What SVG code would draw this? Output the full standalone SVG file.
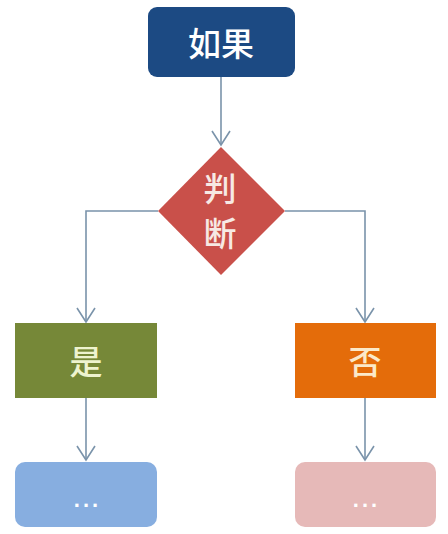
<svg xmlns="http://www.w3.org/2000/svg" width="448" height="534" viewBox="0 0 448 534">
<defs>
<marker id="arrv" markerWidth="22" markerHeight="22" viewBox="-11 -20 22 22" refX="0" refY="0" orient="0" markerUnits="userSpaceOnUse">
<path d="M-9,-14 L0,0 L9,-14" fill="none" stroke="#7a93aa" stroke-width="1.6"/>
</marker>
<style>
.cn{fill:none;stroke:#7a93aa;stroke-width:1.6}
.t{font-family:"Noto Sans CJK SC","Noto Sans",sans-serif;font-size:33px;font-weight:500;text-anchor:middle;dominant-baseline:central}
.d{font-family:"Liberation Sans",sans-serif;font-size:22px;font-weight:bold;letter-spacing:3px;text-anchor:middle;fill:#ffffff}
</style>
</defs>
<rect width="448" height="534" fill="#ffffff"/>
<g id="connectors">
<path class="cn" d="M221,77 V145" marker-end="url(#arrv)"/>
<path class="cn" d="M158,211 H86 V322" marker-end="url(#arrv)"/>
<path class="cn" d="M285,211 H365 V322" marker-end="url(#arrv)"/>
<path class="cn" d="M86,398 V460" marker-end="url(#arrv)"/>
<path class="cn" d="M365,398 V460" marker-end="url(#arrv)"/>
</g>
<g id="node-ruguo">
<rect x="148" y="7" width="147" height="70" rx="9" fill="#1c4a83"/>
<text class="t" x="221" y="42" fill="#ffffff">如果</text>
</g>
<g id="node-panduan">
<polygon points="221,147 285,211 221,275 158,211" fill="#c9504a"/>
<text class="t" x="220" y="187" fill="#f7e9e4">判</text>
<text class="t" x="220" y="232" fill="#f7e9e4">断</text>
</g>
<g id="node-shi">
<rect x="15" y="323" width="142" height="75" fill="#768838"/>
<text class="t" x="86" y="360" fill="#eef3cf" font-size="35">是</text>
</g>
<g id="node-fou">
<rect x="295" y="323" width="141" height="75" fill="#e46c0a"/>
<text class="t" x="365" y="360" fill="#fbe9c9" font-size="35">否</text>
</g>
<g id="node-yes-next">
<rect x="15" y="462" width="142" height="65" rx="10" fill="#87aee0"/>
<text class="d" x="87.5" y="507">...</text>
</g>
<g id="node-no-next">
<rect x="295" y="462" width="141" height="65" rx="10" fill="#e6b9b8"/>
<text class="d" x="366.5" y="507">...</text>
</g>
</svg>
